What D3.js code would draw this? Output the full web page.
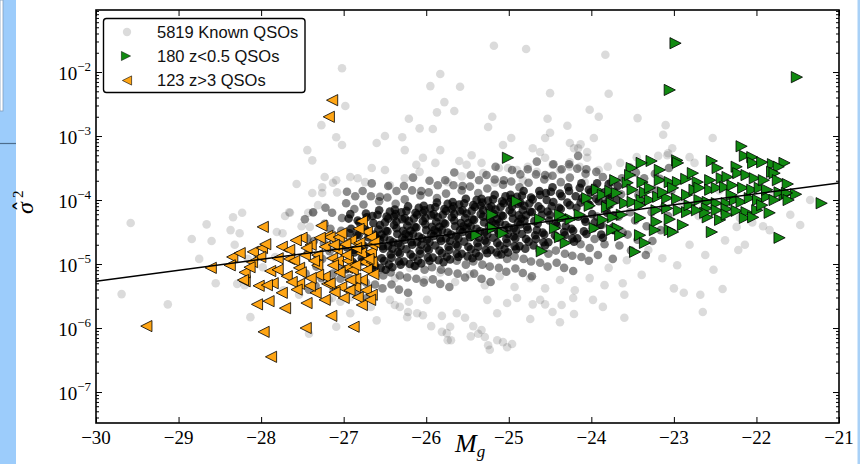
<!DOCTYPE html>
<html>
<head>
<meta charset="utf-8">
<script src="https://cdnjs.cloudflare.com/ajax/libs/d3/7.8.5/d3.min.js"></script>
<style>
  html, body { margin: 0; padding: 0; background: #fff; }
  svg { display: block; }
</style>
</head>
<body>
<div id="chart"></div>
<script>
'use strict';

// ---- data (Mg, log10 sigma^2) ----
var xTicks = [-30, -29, -28, -27, -26, -25, -24, -23, -22, -21];
var yTickExps = [-7, -6, -5, -4, -3, -2];
var legendLabels = ['5819 Known QSOs', '180 z<0.5 QSOs', '123 z>3 QSOs'];

var fitMg = [-30, -21];
var fitSigma2 = [5.4e-6, 1.85e-4];

// known QSOs, dense core: each marker stands for ~9 overlapping objects
var knownCore = [
  [-26.94,-4.29],[-26.96,-4.74],[-26.93,-4.52],[-26.97,-5.08],
  [-26.89,-4.97],[-26.91,-4.45],[-26.88,-4.78],[-26.92,-4.22],
  [-26.84,-4.54],[-26.86,-5.01],[-26.83,-4.32],[-26.87,-4.82],
  [-26.79,-4.69],[-26.81,-4.35],[-26.78,-4.91],[-26.82,-4.55],
  [-26.74,-4.45],[-26.76,-4.82],[-26.73,-4.21],[-26.77,-4.96],[-26.75,-4.72],
  [-26.69,-4.86],[-26.71,-4.49],[-26.68,-5.01],[-26.72,-4.27],[-26.70,-4.58],
  [-26.64,-4.36],[-26.66,-5.07],[-26.63,-4.54],[-26.67,-4.90],[-26.65,-4.25],
  [-26.59,-4.23],[-26.61,-4.68],[-26.58,-4.46],[-26.62,-5.02],[-26.60,-4.59],
  [-26.54,-4.91],[-26.56,-4.39],[-26.53,-4.72],[-26.57,-4.16],[-26.55,-5.06],[-26.54,-4.54],[-26.56,-4.62],
  [-26.49,-4.48],[-26.51,-4.95],[-26.48,-4.26],[-26.52,-4.76],[-26.50,-4.35],[-26.49,-5.09],[-26.51,-4.59],
  [-26.44,-4.63],[-26.46,-4.29],[-26.43,-4.85],[-26.47,-4.49],[-26.45,-5.01],[-26.44,-4.18],[-26.46,-4.72],
  [-26.39,-4.39],[-26.41,-4.76],[-26.38,-4.15],[-26.42,-4.90],[-26.40,-4.66],[-26.39,-4.26],[-26.41,-5.05],
  [-26.34,-4.81],[-26.36,-4.44],[-26.33,-4.96],[-26.37,-4.22],[-26.35,-4.53],[-26.34,-4.68],[-26.36,-4.34],
  [-26.29,-4.30],[-26.31,-5.01],[-26.28,-4.48],[-26.32,-4.84],[-26.30,-4.19],[-26.29,-4.59],[-26.31,-4.72],
  [-26.24,-4.17],[-26.26,-4.62],[-26.23,-4.40],[-26.27,-4.96],[-26.25,-4.53],[-26.24,-4.77],[-26.26,-4.28],
  [-26.19,-4.85],[-26.21,-4.33],[-26.18,-4.66],[-26.22,-4.10],[-26.20,-5.00],[-26.19,-4.48],[-26.21,-4.56],
  [-26.14,-4.42],[-26.16,-4.89],[-26.13,-4.20],[-26.17,-4.70],[-26.15,-4.29],[-26.14,-5.03],[-26.16,-4.53],
  [-26.09,-4.57],[-26.11,-4.23],[-26.08,-4.79],[-26.12,-4.43],[-26.10,-4.95],[-26.09,-4.12],[-26.11,-4.66],
  [-26.04,-4.33],[-26.06,-4.70],[-26.03,-4.09],[-26.07,-4.84],[-26.05,-4.60],[-26.04,-4.20],[-26.06,-4.99],
  [-25.99,-4.75],[-26.01,-4.38],[-25.98,-4.90],[-26.02,-4.16],[-26.00,-4.47],[-25.99,-4.62],[-26.01,-4.28],
  [-25.94,-4.24],[-25.96,-4.95],[-25.93,-4.42],[-25.97,-4.78],[-25.95,-4.13],[-25.94,-4.53],[-25.96,-4.66],
  [-25.89,-4.11],[-25.91,-4.56],[-25.88,-4.34],[-25.92,-4.90],[-25.90,-4.47],[-25.89,-4.71],[-25.91,-4.22],
  [-25.84,-4.79],[-25.86,-4.27],[-25.83,-4.60],[-25.87,-4.04],[-25.85,-4.94],[-25.84,-4.42],[-25.86,-4.50],
  [-25.79,-4.36],[-25.81,-4.83],[-25.78,-4.14],[-25.82,-4.64],[-25.80,-4.23],[-25.79,-4.97],[-25.81,-4.47],
  [-25.74,-4.51],[-25.76,-4.17],[-25.73,-4.73],[-25.77,-4.37],[-25.75,-4.89],[-25.74,-4.06],[-25.76,-4.60],
  [-25.69,-4.27],[-25.71,-4.64],[-25.68,-4.03],[-25.72,-4.78],[-25.70,-4.54],[-25.69,-4.14],[-25.71,-4.93],
  [-25.64,-4.69],[-25.66,-4.32],[-25.63,-4.84],[-25.67,-4.10],[-25.65,-4.41],[-25.64,-4.56],[-25.66,-4.22],
  [-25.59,-4.18],[-25.61,-4.89],[-25.58,-4.36],[-25.62,-4.72],[-25.60,-4.07],[-25.59,-4.47],[-25.61,-4.60],
  [-25.54,-4.05],[-25.56,-4.50],[-25.53,-4.28],[-25.57,-4.84],[-25.55,-4.41],[-25.54,-4.65],[-25.56,-4.16],
  [-25.49,-4.73],[-25.51,-4.21],[-25.48,-4.54],[-25.52,-3.98],[-25.50,-4.88],[-25.49,-4.36],[-25.51,-4.44],
  [-25.44,-4.30],[-25.46,-4.77],[-25.43,-4.08],[-25.47,-4.58],[-25.45,-4.17],[-25.44,-4.91],[-25.46,-4.41],
  [-25.39,-4.45],[-25.41,-4.11],[-25.38,-4.67],[-25.42,-4.31],[-25.40,-4.83],[-25.39,-4.00],[-25.41,-4.54],
  [-25.34,-4.22],[-25.36,-4.59],[-25.33,-3.98],[-25.37,-4.73],[-25.35,-4.49],[-25.34,-4.09],[-25.36,-4.88],
  [-25.29,-4.63],[-25.31,-4.26],[-25.28,-4.78],[-25.32,-4.04],[-25.30,-4.35],[-25.29,-4.50],[-25.31,-4.16],
  [-25.24,-4.12],[-25.26,-4.83],[-25.23,-4.30],[-25.27,-4.66],[-25.25,-4.01],[-25.24,-4.41],[-25.26,-4.54],
  [-25.19,-3.99],[-25.21,-4.44],[-25.18,-4.22],[-25.22,-4.78],[-25.20,-4.35],[-25.19,-4.59],[-25.21,-4.10],
  [-25.14,-4.67],[-25.16,-4.15],[-25.13,-4.48],[-25.17,-3.92],[-25.15,-4.82],[-25.14,-4.30],[-25.16,-4.38],
  [-25.09,-4.24],[-25.11,-4.71],[-25.08,-4.02],[-25.12,-4.52],[-25.10,-4.11],[-25.09,-4.85],[-25.11,-4.35],
  [-25.04,-4.39],[-25.06,-4.05],[-25.03,-4.61],[-25.07,-4.25],[-25.05,-4.77],[-25.04,-3.94],[-25.06,-4.48],
  [-24.99,-4.16],[-25.01,-4.53],[-24.98,-3.92],[-25.02,-4.67],[-25.00,-4.43],[-24.99,-4.03],[-25.01,-4.82],
  [-24.94,-4.57],[-24.96,-4.20],[-24.93,-4.72],[-24.97,-3.98],[-24.95,-4.29],[-24.94,-4.44],[-24.96,-4.10],
  [-24.89,-4.06],[-24.91,-4.77],[-24.88,-4.24],[-24.92,-4.60],[-24.90,-3.95],[-24.89,-4.35],[-24.91,-4.48],
  [-24.84,-3.93],[-24.86,-4.38],[-24.83,-4.16],[-24.87,-4.72],[-24.85,-4.29],[-24.84,-4.53],[-24.86,-4.04],
  [-24.79,-4.61],[-24.81,-4.09],[-24.78,-4.42],[-24.82,-3.86],[-24.80,-4.76],[-24.79,-4.24],[-24.81,-4.32],
  [-24.74,-4.18],[-24.76,-4.65],[-24.73,-3.96],[-24.77,-4.46],[-24.75,-4.05],
  [-24.69,-4.33],[-24.71,-3.99],[-24.68,-4.55],[-24.72,-4.19],[-24.70,-4.71],
  [-24.64,-4.10],[-24.66,-4.47],[-24.63,-3.86],[-24.67,-4.61],[-24.65,-4.37],
  [-24.59,-4.51],[-24.61,-4.14],[-24.58,-4.66],[-24.62,-3.92],[-24.60,-4.23],
  [-24.54,-4.00],[-24.56,-4.71],[-24.53,-4.18],[-24.57,-4.54],[-24.55,-3.89],
  [-24.49,-3.87],[-24.51,-4.32],[-24.48,-4.10],[-24.52,-4.66],[-24.50,-4.23],
  [-24.44,-4.55],[-24.46,-4.03],[-24.43,-4.36],[-24.47,-3.80],
  [-24.39,-4.12],[-24.41,-4.59],[-24.38,-3.90],[-24.42,-4.40],
  [-24.34,-4.28],[-24.36,-3.94],[-24.33,-4.50],[-24.37,-4.14],
  [-24.29,-4.04],[-24.31,-4.41],[-24.28,-3.80],[-24.32,-4.55],
  [-24.24,-4.45],[-24.26,-4.08],[-24.23,-4.60],[-24.27,-3.86],
  [-24.19,-3.94],[-24.21,-4.65],[-24.18,-4.12],[-24.22,-4.48],
  [-24.14,-3.81],[-24.16,-4.26],[-24.13,-4.04],[-24.17,-4.60],
  [-24.09,-4.49],[-24.11,-3.97],[-24.08,-4.30],[-24.12,-3.74],
  [-24.04,-4.06],[-24.06,-4.53],[-24.03,-3.84],[-24.07,-4.34],
  [-23.99,-4.22],[-24.01,-3.88],[-23.98,-4.44],[-24.02,-4.08],
  [-23.94,-3.98],[-23.96,-4.35],[-23.93,-3.74],
  [-23.89,-4.39],[-23.91,-4.02],[-23.88,-4.54],
  [-23.84,-3.88],[-23.86,-4.59],[-23.83,-4.06],
  [-23.79,-3.75],[-23.81,-4.20],[-23.78,-3.98],
  [-23.74,-4.43],[-23.76,-3.91],[-23.73,-4.24],
  [-23.69,-4.00],[-23.71,-4.47],[-23.68,-3.78]
];

// known QSOs, band around the core: each marker ~4 objects
var knownInner = [
  [-27.47,-4.30],[-27.43,-4.80],[-27.46,-5.15],[-27.44,-4.60],[-27.42,-5.40],
  [-27.36,-4.64],[-27.33,-5.04],[-27.37,-4.19],[-27.34,-5.34],[-27.32,-4.89],
  [-27.26,-4.92],[-27.23,-4.37],[-27.27,-5.22],[-27.24,-4.67],[-27.22,-4.12],
  [-27.16,-4.45],[-27.13,-5.15],[-27.17,-4.80],[-27.14,-4.20],[-27.12,-5.40],
  [-27.06,-5.03],[-27.03,-4.48],[-27.07,-4.68],[-27.04,-5.23],[-27.02,-4.28],
  [-26.97,-4.05],[-26.93,-5.22],[-26.96,-3.87],[-26.92,-5.41],
  [-26.87,-4.14],[-26.83,-5.48],[-26.86,-3.94],[-26.82,-5.26],
  [-26.77,-3.86],[-26.73,-5.29],[-26.76,-4.07],[-26.72,-5.53],
  [-26.67,-3.94],[-26.63,-5.12],[-26.66,-3.74],[-26.62,-5.32],
  [-26.57,-4.02],[-26.53,-5.38],[-26.56,-3.95],[-26.52,-5.18],
  [-26.47,-3.96],[-26.43,-5.13],[-26.46,-3.78],[-26.42,-5.32],
  [-26.37,-4.06],[-26.33,-5.40],[-26.36,-3.86],[-26.32,-5.18],
  [-26.27,-3.78],[-26.23,-5.21],[-26.26,-3.99],[-26.22,-5.45],
  [-26.17,-3.85],[-26.13,-5.03],[-26.16,-3.65],[-26.12,-5.23],
  [-26.07,-3.93],[-26.03,-5.29],[-26.06,-3.86],[-26.02,-5.09],
  [-25.97,-3.88],[-25.93,-5.05],[-25.96,-3.70],[-25.92,-5.24],
  [-25.87,-3.97],[-25.83,-5.31],[-25.86,-3.77],[-25.82,-5.09],
  [-25.77,-3.69],[-25.73,-5.12],[-25.76,-3.90],[-25.72,-5.36],
  [-25.67,-3.77],[-25.63,-4.95],[-25.66,-3.57],[-25.62,-5.15],
  [-25.57,-3.85],[-25.53,-5.21],[-25.56,-3.78],[-25.52,-5.01],
  [-25.47,-3.79],[-25.43,-4.96],[-25.46,-3.61],[-25.42,-5.15],
  [-25.37,-3.89],[-25.33,-5.23],[-25.36,-3.69],[-25.32,-5.01],
  [-25.27,-3.61],[-25.23,-5.04],[-25.26,-3.82],[-25.22,-5.28],
  [-25.17,-3.68],[-25.13,-4.86],[-25.16,-3.48],[-25.12,-5.06],
  [-25.07,-3.76],[-25.03,-5.12],[-25.06,-3.69],[-25.02,-4.92],
  [-24.97,-3.71],[-24.93,-4.88],[-24.96,-3.53],[-24.92,-5.07],
  [-24.87,-3.80],[-24.83,-5.14],[-24.86,-3.60],[-24.82,-4.92],
  [-24.77,-3.52],[-24.73,-4.96],[-24.76,-3.73],[-24.72,-5.19],
  [-24.67,-3.60],[-24.63,-4.78],[-24.66,-3.40],[-24.62,-4.98],
  [-24.57,-3.68],[-24.53,-5.04],[-24.56,-3.61],[-24.52,-4.84],
  [-24.47,-3.62],[-24.43,-4.79],[-24.46,-3.44],[-24.42,-4.98],
  [-24.37,-3.72],[-24.33,-5.06],[-24.36,-3.52],[-24.32,-4.84],
  [-24.27,-3.44],[-24.23,-4.87],[-24.26,-3.65],[-24.22,-5.11],
  [-24.17,-3.51],[-24.13,-4.69],[-24.16,-3.31],[-24.12,-4.89],
  [-24.07,-3.59],[-24.03,-4.95],[-24.06,-3.52],[-24.02,-4.75],
  [-23.97,-3.81],[-23.93,-4.26],[-23.96,-4.61],[-23.94,-3.56],[-23.92,-4.86],
  [-23.87,-4.39],[-23.83,-3.99],[-23.86,-3.64],[-23.84,-4.69],[-23.82,-4.14],
  [-23.77,-4.07],[-23.73,-4.47],[-23.76,-3.72],[-23.74,-4.92],[-23.72,-3.87],
  [-23.67,-4.26],[-23.63,-3.66],[-23.66,-4.71],[-23.64,-3.91],[-23.62,-4.51],
  [-23.57,-3.74],[-23.53,-4.19],[-23.56,-4.54],[-23.54,-3.49],[-23.52,-4.79],
  [-23.47,-4.32],[-23.43,-3.92],[-23.46,-3.57],[-23.44,-4.62],[-23.42,-4.07],
  [-23.37,-4.01],[-23.33,-4.41],[-23.36,-3.66],[-23.34,-4.86],
  [-23.27,-4.19],[-23.23,-3.59],[-23.26,-4.64],[-23.24,-3.84],
  [-23.17,-3.67],[-23.13,-4.12],[-23.16,-4.47],
  [-23.07,-4.25],[-23.03,-3.85],[-23.06,-3.50]
];

// known QSOs, scattered single objects
var knownSparse = [
  [-27.02,-1.94],[-26.98,-2.53],[-27.27,-2.83],[-27.09,-3.02],[-25.18,-1.59],[-24.79,-1.64],
  [-23.83,-1.73],[-25.83,-2.03],[-25.95,-2.22],[-25.59,-2.23],[-24.50,-2.33],[-23.79,-2.34],
  [-25.78,-2.47],[-25.87,-2.63],[-25.66,-2.61],[-26.21,-2.73],[-26.08,-2.88],[-25.92,-2.89],
  [-25.20,-2.70],[-25.25,-2.86],[-24.53,-2.73],[-24.50,-2.95],[-24.29,-2.84],[-24.02,-2.59],
  [-23.91,-2.70],[-23.44,-2.72],[-23.10,-2.83],[-23.13,-2.98],[-26.50,-3.00],[-26.29,-3.02],
  [-24.97,-3.03],[-24.56,-3.03],[-23.97,-3.03],[-22.53,-3.03],[-24.21,-3.19],[-24.13,-3.13],
  [-23.02,-3.19],[-24.05,-3.25],[-24.05,-3.34],[-24.26,-3.48],[-23.91,-3.53],[-23.08,-3.30],
  [-22.81,-3.33],[-21.92,-4.41],[-22.22,-4.78],
  [-27.44,-3.22],[-27.38,-3.38],[-27.23,-3.64],[-27.09,-3.69],[-27.26,-3.89],[-26.92,-3.64],
  [-26.83,-3.66],[-27.02,-3.14],[-26.74,-3.72],[-26.66,-3.50],[-26.50,-3.53],[-26.60,-3.11],
  [-26.26,-3.22],[-26.04,-3.34],[-26.12,-3.45],[-26.08,-3.56],[-25.89,-3.42],[-25.83,-3.22],
  [-25.60,-3.39],[-25.51,-3.45],[-25.45,-3.30],[-25.33,-3.42],[-25.07,-3.14],[-25.31,-3.58],
  [-25.12,-3.50],[-25.01,-3.50],[-24.90,-3.53],[-24.71,-3.19],[-24.62,-3.25],[-24.26,-3.11],
  [-24.16,-3.19],[-24.56,-3.34],[-24.47,-3.45],[-24.38,-3.53],[-24.26,-3.41],[-24.14,-3.48],
  [-24.77,-3.48],[-24.66,-3.56],[-26.44,-3.77],[-26.26,-3.66],[-25.74,-3.72],[-25.57,-3.63],
  [-25.17,-3.73],[-24.83,-3.69],[-24.53,-3.63],[-24.08,-3.72],
  [-23.19,-3.31],[-23.07,-3.27],[-22.75,-3.42],[-23.80,-3.48],[-23.65,-3.42],[-23.45,-3.33],
  [-22.20,-4.28],[-22.24,-4.42],[-23.31,-4.78],[-23.14,-4.91],[-22.81,-4.70],[-22.62,-4.86],
  [-22.38,-4.63],[-22.14,-4.70],[-21.84,-4.47],[-21.59,-4.23],[-21.35,-4.00],[-21.47,-4.39],
  [-22.96,-5.02],[-23.57,-4.94],[-23.79,-5.06],[-23.39,-5.17],[-22.52,-5.09],
  [-22.90,-4.05],[-22.70,-4.25],[-22.45,-3.85],[-22.30,-4.15],[-22.05,-4.35],[-21.80,-3.95],
  [-29.69,-5.47],[-29.13,-5.63],[-28.55,-5.30],[-28.29,-5.31],[-28.13,-5.83],[-27.73,-5.41],
  [-27.54,-5.48],[-27.18,-5.56],[-27.09,-5.98],[-27.42,-6.09],[-27.04,-5.59],[-26.92,-5.77],
  [-26.67,-5.67],[-26.38,-5.64],[-26.21,-5.59],[-26.22,-5.75],[-26.04,-5.80],[-25.94,-5.97],
  [-25.81,-6.06],[-25.71,-5.98],[-25.70,-6.19],[-25.46,-6.13],[-25.37,-6.09],[-25.29,-6.14],
  [-25.43,-5.97],[-25.53,-5.84],[-25.81,-5.81],[-25.63,-5.77],[-25.23,-6.34],[-25.07,-6.22],
  [-24.96,-6.25],[-24.74,-5.86],[-24.38,-5.91],[-24.21,-5.78],[-23.86,-5.67],[-23.60,-5.84],
  [-23.98,-5.56],[-23.60,-5.48],[-23.62,-5.30],[-23.00,-5.38],[-22.88,-5.45],[-22.68,-5.48],
  [-22.65,-5.75],[-22.41,-5.39],[-24.56,-5.63],[-24.36,-5.64],[-24.71,-5.63],[-24.22,-5.53],
  [-26.92,-5.52],[-26.60,-5.88],[-26.44,-5.56],[-26.32,-5.67],[-26.23,-5.83],[-26.11,-5.77],
  [-25.99,-5.56],[-25.75,-6.08],[-25.33,-6.03],[-25.26,-5.56],[-25.14,-5.77],[-25.02,-5.61],
  [-24.90,-5.53],[-24.62,-5.56],[-24.47,-5.75],[-25.74,-6.19],[-25.25,-6.27],[-25.14,-6.19],
  [-25.02,-6.30],
  [-26.56,-5.09],[-26.38,-5.22],[-26.20,-5.06],[-26.02,-5.25],[-25.83,-5.13],[-25.65,-5.28],
  [-25.47,-5.16],[-25.29,-5.33],[-25.11,-5.19],[-24.93,-5.36],[-24.74,-5.22],[-24.56,-5.38],
  [-24.38,-5.25],[-24.20,-5.41],[-24.02,-5.22],[-23.84,-5.33],
  [-29.58,-4.36],[-28.66,-4.38],[-28.84,-4.61],[-28.60,-4.64],[-28.75,-4.92],[-28.34,-4.27],
  [-28.23,-4.20],[-28.37,-4.47],[-28.26,-4.52],[-28.32,-4.70],[-27.71,-4.25],[-27.66,-4.19],
  [-27.74,-4.52],[-27.57,-3.75],[-27.38,-3.89],[-27.26,-3.80],[-27.31,-4.08],[-27.37,-4.20],
  [-27.13,-3.73],[-27.08,-3.88],[-27.51,-4.41],[-28.16,-4.92],[-28.05,-4.89],[-27.83,-4.89],
  [-27.98,-5.05],[-28.20,-5.33],[-27.81,-4.50],[-27.65,-4.20],[-27.43,-4.20],[-27.41,-4.42],
  [-27.14,-5.53]
];

// 180 z<0.5 QSOs
var lowZ = [
  [-22.98,-1.55],[-23.05,-2.28],[-21.51,-2.08],[-22.18,-3.16],[-22.14,-3.31],[-22.05,-3.33],
  [-22.04,-3.42],[-21.93,-3.41],[-22.54,-3.39],[-22.96,-3.38],[-22.95,-3.42],[-23.27,-3.39],
  [-23.39,-3.42],[-23.51,-3.50],[-22.24,-3.48],[-21.80,-3.44],[-21.66,-3.42],[-21.73,-3.48],
  [-21.81,-3.56],[-21.78,-3.58],[-21.74,-3.69],[-21.62,-3.75],[-21.52,-3.91],[-21.66,-3.92],
  [-21.21,-4.05],[-21.84,-4.20],[-21.72,-4.59],[-22.54,-4.50],[-23.05,-4.47],[-23.41,-4.55],
  [-23.68,-4.44],[-23.65,-4.55],[-23.35,-4.67],[-23.21,-4.34],[-23.05,-4.30],[-23.41,-4.28],
  [-23.63,-4.23],[-24.02,-4.09],[-23.81,-4.11],[-23.93,-3.84],[-23.86,-3.92],[-23.77,-3.86],
  [-23.69,-3.89],[-23.56,-3.73],[-23.53,-3.61],[-23.38,-3.72],[-23.17,-3.69],[-23.17,-3.53],
  [-23.05,-3.72],[-22.95,-3.72],[-22.85,-3.67],[-22.77,-3.58],[-22.71,-3.72],[-22.56,-3.69],
  [-22.42,-3.66],[-22.35,-3.64],[-22.22,-3.58],[-22.12,-3.61],[-22.02,-3.66],[-23.59,-4.05],
  [-23.50,-4.03],[-23.39,-4.00],[-23.29,-4.00],[-23.19,-3.95],[-23.08,-3.97],[-22.96,-3.98],
  [-22.84,-3.92],[-22.75,-3.84],[-23.13,-3.88],[-23.01,-3.81],[-23.50,-3.84],[-23.35,-3.88],
  [-22.69,-4.00],[-22.59,-4.03],[-22.48,-4.05],[-22.36,-4.05],[-22.26,-4.00],[-22.18,-4.03],
  [-22.08,-3.97],[-21.98,-4.00],[-21.87,-3.95],[-22.56,-3.84],[-22.48,-3.81],[-22.38,-3.80],
  [-22.29,-3.77],[-22.16,-3.81],[-22.05,-3.84],[-21.96,-3.81],[-21.87,-3.84],[-21.72,-3.88],
  [-21.63,-3.89],[-22.60,-4.13],[-22.48,-4.16],[-22.36,-4.14],[-22.24,-4.17],[-22.12,-4.19],
  [-21.99,-4.16],[-22.59,-4.27],[-22.44,-4.31],[-22.14,-4.28],[-22.04,-4.27],[-22.94,-4.16],
  [-22.84,-4.19],[-23.21,-4.16],[-23.08,-4.13],[-23.74,-4.27],[-23.86,-4.31],[-24.31,-4.67],
  [-24.38,-4.58],[-24.25,-4.30],[-24.34,-4.27],[-23.01,-4.50],[-22.62,-4.20],[-23.47,-4.81],
  [-25.01,-3.34],[-24.90,-4.02],[-25.20,-4.23],[-25.19,-4.44],[-25.07,-4.52],[-25.39,-4.55],
  [-24.62,-4.30],[-24.38,-4.23],[-24.44,-4.44],[-24.60,-4.80],
  [-23.75,-4.05],[-23.29,-3.81],[-22.81,-4.08],[-22.69,-3.81],[-22.30,-3.92],[-21.93,-4.08],
  [-21.78,-4.00],[-22.36,-4.23],[-22.89,-4.39],[-22.72,-4.16],[-23.71,-3.69],[-24.05,-3.97],
  [-24.14,-4.23],[-23.96,-4.44],[-23.23,-4.47],[-21.91,-3.69],[-21.61,-4.00],[-22.47,-3.50],
  [-23.41,-4.08],[-23.75,-4.47]
];

// 123 z>3 QSOs
var highZ = [
  [-27.14,-2.44],[-27.18,-2.70],[-29.39,-5.97],[-27.97,-6.06],[-27.88,-6.45],[-27.46,-6.00],
  [-26.88,-5.98],[-27.15,-5.81],[-28.05,-5.63],[-27.91,-5.58],[-27.71,-5.69],[-27.45,-5.61],
  [-27.34,-5.45],[-28.03,-5.34],[-27.86,-5.30],[-27.54,-5.31],[-27.41,-5.34],[-27.20,-5.31],
  [-27.03,-5.36],[-26.86,-5.36],[-26.73,-5.41],[-26.83,-5.52],[-26.66,-5.48],[-28.20,-5.27],
  [-27.98,-4.42],[-26.78,-4.33],[-26.72,-4.50],[-28.35,-4.89],[-28.26,-4.83],[-28.10,-4.81],
  [-27.99,-4.75],[-28.01,-4.89],[-28.61,-5.06],[-28.20,-5.13],[-28.22,-5.25],[-27.89,-5.11],
  [-27.80,-5.09],[-27.93,-5.33],[-27.75,-4.73],[-27.66,-4.78],[-27.51,-4.59],[-27.40,-4.70],
  [-27.66,-4.92],[-27.60,-4.95],[-27.54,-5.06],[-27.52,-5.13],[-27.69,-5.19],[-27.32,-4.86],
  [-27.32,-5.02],[-27.20,-4.56],[-27.17,-4.58],[-27.06,-4.58],[-27.23,-4.73],[-27.08,-4.78],
  [-27.14,-4.91],[-27.07,-4.95],[-26.95,-4.95],[-27.23,-5.20],[-27.17,-5.30],[-26.96,-5.06],
  [-26.89,-5.09],[-26.78,-5.25],[-26.91,-4.63],[-26.81,-4.67],[-26.79,-4.83],[-26.67,-4.81],
  [-26.66,-4.70],[-26.67,-4.58],[-26.63,-4.66],[-26.75,-4.97],[-26.66,-4.97],[-26.86,-5.23],
  [-27.03,-4.52],[-26.85,-4.75],[-26.72,-5.09],[-27.05,-5.13],[-26.92,-5.25],[-27.11,-5.44],
  [-26.78,-5.64],[-26.68,-5.56],[-27.31,-5.17],[-27.47,-4.86],[-27.58,-4.63],[-27.80,-4.91],
  [-28.11,-4.97],[-27.75,-5.45],[-28.38,-5.02],[-27.29,-4.59],[-26.86,-5.02],[-27.00,-5.53],
  [-27.23,-5.56],[-27.63,-5.28],[-27.95,-4.69],[-27.45,-4.75],[-27.36,-4.95],[-26.98,-4.69],
  [-26.70,-4.92],[-26.82,-4.45],[-27.27,-4.40],[-27.12,-4.70],[-26.97,-4.86],[-27.40,-5.22],
  [-26.93,-5.41],[-27.57,-5.40],[-26.64,-5.16],[-27.13,-5.02],[-28.14,-5.05]
];

// ---- layout ----
var W = 860, H = 464;
var plot = {left: 96, right: 839, top: 10, bottom: 423};
var alpha = 0.14;
var markerR = 4.3;
var triS = 5.6;

var x = d3.scaleLinear().domain([-30, -21]).range([plot.left, plot.right]);
var y = d3.scaleLog().domain([Math.pow(10, -7.484), Math.pow(10, -1.031)]).range([plot.bottom, plot.top]);

function py(d) { return y(Math.pow(10, d[1])); }
function px(d) { return x(d[0]); }
function stackOpacity(n) { return 1 - Math.pow(1 - alpha, n); }
function triRight(s) { return 'M' + s + ',0L' + (-s) + ',' + (-s) + 'L' + (-s) + ',' + s + 'Z'; }
function triLeft(s) { return 'M' + (-s) + ',0L' + s + ',' + (-s) + 'L' + s + ',' + s + 'Z'; }

var svg = d3.select('#chart').append('svg')
  .attr('width', W)
  .attr('height', H);

// slide background bits
svg.append('rect').attr('x', 0).attr('y', 0).attr('width', 16).attr('height', H).attr('fill', '#9cccfb');
svg.append('rect').attr('x', 0).attr('y', 0).attr('width', 3).attr('height', 111)
  .attr('fill', '#fff').attr('stroke', '#7f9fbf').attr('stroke-width', 0.8);
svg.append('line').attr('x1', 0).attr('x2', 16).attr('y1', 143.5).attr('y2', 143.5)
  .attr('stroke', '#4d6d8d').attr('stroke-width', 1.2);
svg.append('rect').attr('x', 857.5).attr('y', 0).attr('width', 2.5).attr('height', H).attr('fill', '#a9d1f7');

svg.append('clipPath').attr('id', 'clip')
  .append('rect')
  .attr('x', plot.left).attr('y', plot.top)
  .attr('width', plot.right - plot.left).attr('height', plot.bottom - plot.top);

var g = svg.append('g').attr('clip-path', 'url(#clip)');

// known QSOs
var tiers = [
  {data: knownCore, n: 9},
  {data: knownInner, n: 4},
  {data: knownSparse, n: 1}
];
tiers.forEach(function(t) {
  g.append('g').selectAll('circle')
    .data(t.data)
    .enter().append('circle')
    .attr('cx', px)
    .attr('cy', py)
    .attr('r', markerR)
    .attr('fill', '#000')
    .attr('fill-opacity', stackOpacity(t.n));
});

// z<0.5
g.append('g').selectAll('path')
  .data(lowZ)
  .enter().append('path')
  .attr('d', triRight(triS))
  .attr('transform', function(d) { return 'translate(' + px(d) + ',' + py(d) + ')'; })
  .attr('fill', '#118a11')
  .attr('stroke', '#000')
  .attr('stroke-width', 0.8);

// z>3
g.append('g').selectAll('path')
  .data(highZ)
  .enter().append('path')
  .attr('d', triLeft(triS))
  .attr('transform', function(d) { return 'translate(' + px(d) + ',' + py(d) + ')'; })
  .attr('fill', '#ffa514')
  .attr('stroke', '#000')
  .attr('stroke-width', 0.8);

// fit line
g.append('line')
  .attr('x1', x(fitMg[0])).attr('y1', y(fitSigma2[0]))
  .attr('x2', x(fitMg[1])).attr('y2', y(fitSigma2[1]))
  .attr('stroke', '#000')
  .attr('stroke-width', 1.5);

// ---- axes (ticks point inward) ----
var majors = yTickExps.map(function(e) { return Math.pow(10, e); });
var minors = [];
for (var e = -8; e <= -2; e++) {
  for (var m = 2; m <= 9; m++) {
    var v = m * Math.pow(10, e);
    if (v > y.domain()[0] && v < y.domain()[1]) minors.push(v);
  }
}

function styleAxis(sel) {
  sel.select('.domain').remove();
  sel.selectAll('line').attr('stroke', '#000').attr('stroke-width', 1);
  sel.selectAll('text').remove();
}

svg.append('g').attr('transform', 'translate(0,' + plot.bottom + ')')
  .call(d3.axisBottom(x).tickValues(xTicks).tickSize(-6).tickFormat('')).call(styleAxis);
svg.append('g').attr('transform', 'translate(0,' + plot.top + ')')
  .call(d3.axisTop(x).tickValues(xTicks).tickSize(-6).tickFormat('')).call(styleAxis);
svg.append('g').attr('transform', 'translate(' + plot.left + ',0)')
  .call(d3.axisLeft(y).tickValues(majors).tickSize(-6).tickFormat('')).call(styleAxis);
svg.append('g').attr('transform', 'translate(' + plot.left + ',0)')
  .call(d3.axisLeft(y).tickValues(minors).tickSize(-3).tickFormat('')).call(styleAxis);
svg.append('g').attr('transform', 'translate(' + plot.right + ',0)')
  .call(d3.axisRight(y).tickValues(majors).tickSize(-6).tickFormat('')).call(styleAxis);
svg.append('g').attr('transform', 'translate(' + plot.right + ',0)')
  .call(d3.axisRight(y).tickValues(minors).tickSize(-3).tickFormat('')).call(styleAxis);

// frame
svg.append('rect')
  .attr('x', plot.left).attr('y', plot.top)
  .attr('width', plot.right - plot.left).attr('height', plot.bottom - plot.top)
  .attr('fill', 'none').attr('stroke', '#000').attr('stroke-width', 1.6);

// tick labels
var serif = '"Liberation Serif", "DejaVu Serif", serif';
var fmt = d3.format('d');
svg.append('g').selectAll('text')
  .data(xTicks)
  .enter().append('text')
  .attr('x', function(d) { return x(d); })
  .attr('y', 444)
  .attr('text-anchor', 'middle')
  .attr('font-family', serif)
  .attr('font-size', 19)
  .text(function(d) { return fmt(d); });

var yl = svg.append('g').selectAll('text')
  .data(yTickExps)
  .enter().append('text')
  .attr('x', 91)
  .attr('y', function(d) { return y(Math.pow(10, d)) + 7.5; })
  .attr('text-anchor', 'end')
  .attr('font-family', serif)
  .attr('font-size', 19);
yl.append('tspan').text('10');
yl.append('tspan').attr('dy', -8.5).attr('font-size', 13).text(function(d) { return fmt(d); });

// axis titles
var xt = svg.append('text')
  .attr('x', 455).attr('y', 452)
  .attr('font-family', serif)
  .attr('font-size', 26)
  .attr('font-style', 'italic');
xt.append('tspan').text('M');
xt.append('tspan').attr('dy', 5).attr('font-size', 17).text('g');

var yt = svg.append('g').attr('transform', 'translate(33,204) rotate(-90)');
yt.append('text').attr('x', -4).attr('y', 0)
  .attr('text-anchor', 'middle')
  .attr('font-family', serif).attr('font-size', 24).attr('font-style', 'italic')
  .text('σ');
yt.append('text').attr('x', -2).attr('y', -1)
  .attr('text-anchor', 'middle')
  .attr('font-family', '"DejaVu Serif", serif').attr('font-size', 24)
  .text('ˆ');
yt.append('text').attr('x', 6).attr('y', -10)
  .attr('font-family', serif).attr('font-size', 15)
  .text('2');

// legend
var lg = svg.append('g');
lg.append('rect')
  .attr('x', 103.5).attr('y', 18.5)
  .attr('width', 201.5).attr('height', 74)
  .attr('rx', 3)
  .attr('fill', '#fff').attr('stroke', '#000').attr('stroke-width', 1.4);
var rowsY = [32, 56, 80.5];
lg.append('circle').attr('cx', 127).attr('cy', rowsY[0]).attr('r', 4.2)
  .attr('fill', '#000').attr('fill-opacity', stackOpacity(1));
lg.append('path').attr('d', triRight(4.6))
  .attr('transform', 'translate(126,' + rowsY[1] + ')')
  .attr('fill', '#118a11').attr('stroke', '#000').attr('stroke-width', 0.5);
lg.append('path').attr('d', triLeft(4.6))
  .attr('transform', 'translate(127,' + rowsY[2] + ')')
  .attr('fill', '#ffa514').attr('stroke', '#000').attr('stroke-width', 0.6);
lg.selectAll('text.lab')
  .data(legendLabels)
  .enter().append('text')
  .attr('class', 'lab')
  .attr('x', 157)
  .attr('y', function(d, i) { return rowsY[i] + 5.6; })
  .attr('font-family', '"Liberation Sans", Arial, sans-serif')
  .attr('font-size', 16.5)
  .attr('fill', '#111')
  .text(function(d) { return d; });
</script>
</body>
</html>
